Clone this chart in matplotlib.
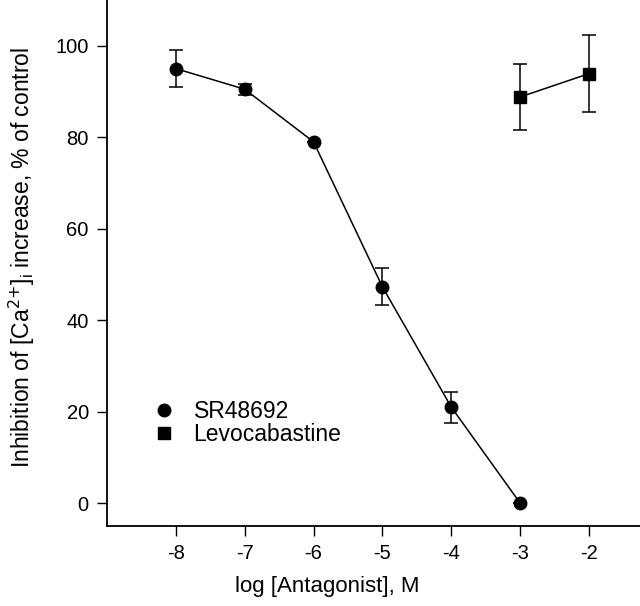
import matplotlib
matplotlib.use("Agg")
import matplotlib.pyplot as plt

plt.rcParams["font.family"] = ["Liberation Sans", "DejaVu Sans"]

# SR48692 データ
sr_x = [-8, -7, -6, -5, -4, -3]
sr_y = [95.0, 90.5, 79.0, 47.3, 21.0, 0.0]
sr_err = [4.0, 1.2, 0.0, 4.0, 3.4, 0.0]

# Levocabastine データ
lev_x = [-3, -2]
lev_y = [88.8, 93.9]
lev_err = [7.3, 8.4]

x_ticks = [-8, -7, -6, -5, -4, -3, -2]
y_ticks = [0, 20, 40, 60, 80, 100]

fig = plt.figure(figsize=(6.4, 6.06), dpi=100)
ax = fig.add_axes([0.167, 0.132, 0.833, 0.868])

ax.errorbar(sr_x, sr_y, yerr=sr_err, color="black", marker="o", markersize=9,
            linewidth=1.1, elinewidth=1.1, capsize=5, capthick=1.1, label="SR48692")
ax.errorbar(lev_x, lev_y, yerr=lev_err, color="black", marker="s", markersize=8.5,
            linewidth=1.1, elinewidth=1.1, capsize=5, capthick=1.1, label="Levocabastine")

ax.set_xlim(-9, -1.26)
ax.set_ylim(-5, 110)
ax.set_xticks(x_ticks)
ax.set_yticks(y_ticks)
ax.set_xticklabels([str(t) for t in x_ticks])

for side in ["top", "right"]:
    ax.spines[side].set_visible(False)
for side in ["left", "bottom"]:
    ax.spines[side].set_linewidth(1.3)

ax.tick_params(direction="out", length=7, width=1.0, labelsize=14.5, pad=6)

ax.set_xlabel("log [Antagonist], M", fontsize=16, labelpad=10)
ax.set_ylabel("Inhibition of [Ca$^{2{+}}$]$_\\mathregular{i}$ increase, % of control",
              fontsize=16.5, labelpad=8)
ax.xaxis.set_label_coords(0.413, -0.095)
ax.yaxis.set_label_coords(-0.131, 0.511)

# 凡例（エラーバーなし）
handles, labels = ax.get_legend_handles_labels()
handles = [h[0] for h in handles]
leg = ax.legend(handles, labels, loc="lower left", bbox_to_anchor=(0.068, 0.113),
                frameon=False, fontsize=16.5, handlelength=0, handletextpad=1.3,
                labelspacing=0.0)
for h in leg.legend_handles:
    h.set_linestyle("none")

plt.savefig("out.png", dpi=100)
